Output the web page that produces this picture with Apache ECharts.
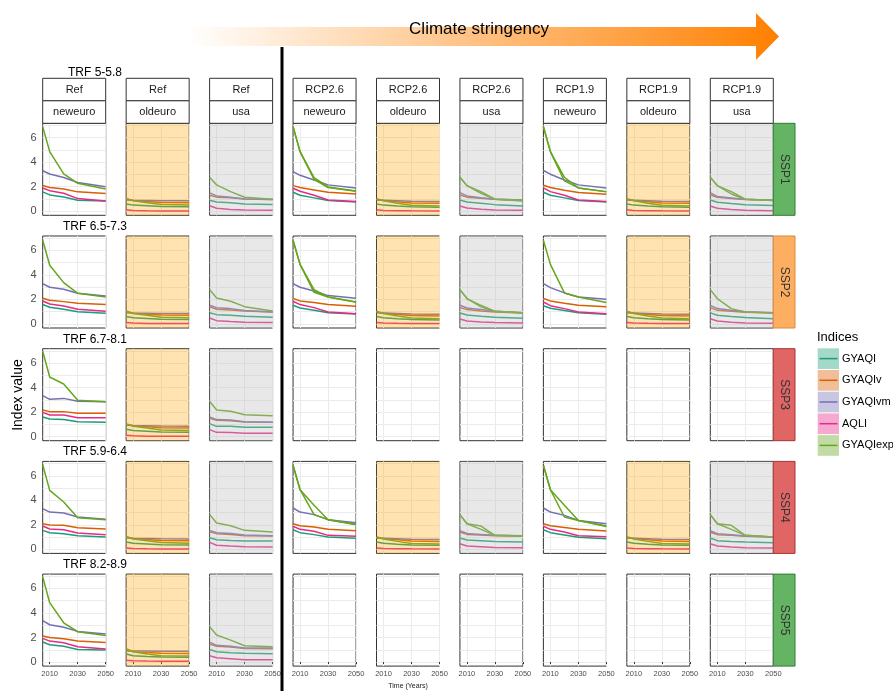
<!DOCTYPE html>
<html>
<head>
<meta charset="utf-8">
<title>Index value by scenario and region</title>
<script src="https://cdn.jsdelivr.net/npm/echarts@6/dist/echarts.min.js"></script>
<style>
html, body { margin: 0; padding: 0; background: #fff; }
#chart { width: 893px; height: 691px; }
</style>
</head>
<body>
<div id="chart"></div>
<script>
// ---- data ----
var years = [2005, 2010, 2020, 2030, 2050];
var indices = ['GYAQI', 'GYAQIv', 'GYAQIvm', 'AQLI', 'GYAQIexp'];
var scenarios = ['Ref', 'Ref', 'Ref', 'RCP2.6', 'RCP2.6', 'RCP2.6', 'RCP1.9', 'RCP1.9', 'RCP1.9'];
var regions = ['neweuro', 'oldeuro', 'usa', 'neweuro', 'oldeuro', 'usa', 'neweuro', 'oldeuro', 'usa'];
var ssps = ['SSP1', 'SSP2', 'SSP3', 'SSP4', 'SSP5'];
var trfLabels = ['TRF 5-5.8', 'TRF 6.5-7.3', 'TRF 6.7-8.1', 'TRF 5.9-6.4', 'TRF 8.2-8.9'];
var xTicks = [2010, 2030, 2050];
var yTicks = [0, 2, 4, 6];

// each panel: GYAQI, GYAQIv, GYAQIvm, AQLI, GYAQIexp [, GYAQIexp upper bound]
var oldeuroRef = [[0.60, 0.50, 0.44, 0.38, 0.36], [1.00, 0.88, 0.80, 0.72, 0.70], [0.92, 0.90, 0.88, 0.86, 0.85], [0.12, 0.07, 0.04, 0.03, 0.03], [1.05, 0.85, 0.70, 0.55, 0.50]];
var oldeuroRcp = [[0.60, 0.50, 0.42, 0.36, 0.33], [0.95, 0.88, 0.78, 0.68, 0.65], [0.92, 0.90, 0.86, 0.82, 0.80], [0.12, 0.07, 0.05, 0.04, 0.03], [1.03, 0.85, 0.65, 0.48, 0.43]];

var ssp1RefNeweuro = [[1.58, 1.33, 1.17, 0.90, 0.84], [2.10, 1.93, 1.82, 1.58, 1.44], [3.30, 3.04, 2.75, 2.34, 2.00], [1.90, 1.68, 1.47, 1.03, 0.84], [6.90, 4.86, 3.04, 2.28, 1.82]];
var ssp1RefUsa = [[0.90, 0.75, 0.70, 0.60, 0.55], [1.30, 1.15, 1.10, 1.00, 0.95], [1.50, 1.25, 1.15, 1.00, 0.95], [0.45, 0.25, 0.15, 0.10, 0.08], [2.77, 2.15, 1.60, 1.14, 0.98]];
var ssp1Rcp26Neweuro = [[1.55, 1.30, 1.09, 0.87, 0.76], [2.09, 1.93, 1.74, 1.55, 1.41], [3.23, 2.93, 2.55, 2.15, 1.90], [1.87, 1.63, 1.30, 0.92, 0.79], [6.90, 4.86, 2.60, 1.93, 1.63], [6.90, 4.86, 2.75, 1.98, 1.66]];
var ssp1Rcp26Usa = [[0.92, 0.76, 0.65, 0.54, 0.43], [1.33, 1.15, 1.05, 0.98, 0.92], [1.52, 1.25, 1.11, 0.98, 0.92], [0.43, 0.27, 0.16, 0.11, 0.08], [2.77, 2.09, 1.47, 0.98, 0.84], [2.77, 2.09, 1.60, 0.98, 0.87]];
var ssp1Rcp19Neweuro = [[1.55, 1.30, 1.09, 0.87, 0.76], [2.12, 1.93, 1.71, 1.52, 1.39], [3.32, 3.02, 2.55, 2.15, 1.90], [1.90, 1.60, 1.30, 0.92, 0.79], [6.90, 4.86, 2.47, 1.90, 1.58], [6.90, 4.86, 2.77, 1.90, 1.60]];
var ssp1Rcp19Usa = [[0.92, 0.73, 0.63, 0.54, 0.46], [1.33, 1.14, 1.03, 0.95, 0.90], [1.52, 1.20, 1.09, 0.98, 0.90], [0.43, 0.24, 0.14, 0.08, 0.05], [2.77, 2.09, 1.41, 0.98, 0.87], [2.77, 2.09, 1.60, 0.98, 0.87]];

var ssp2RefNeweuro = [[1.58, 1.36, 1.20, 1.00, 0.87], [2.09, 1.93, 1.82, 1.68, 1.58], [3.29, 2.99, 2.83, 2.50, 2.28], [1.87, 1.63, 1.47, 1.20, 1.03], [6.82, 4.78, 3.37, 2.50, 2.20]];
var ssp2RefUsa = [[0.92, 0.76, 0.71, 0.63, 0.54], [1.39, 1.20, 1.14, 1.06, 0.98], [1.52, 1.33, 1.25, 1.09, 0.98], [0.49, 0.27, 0.19, 0.14, 0.11], [2.80, 2.12, 1.85, 1.41, 1.06]];
var ssp2Rcp26Neweuro = [[1.52, 1.30, 1.11, 0.92, 0.82], [2.07, 1.88, 1.74, 1.58, 1.44], [3.29, 2.99, 2.69, 2.31, 2.09], [1.85, 1.58, 1.33, 0.98, 0.84], [6.82, 4.86, 2.58, 2.20, 1.77], [6.82, 4.86, 2.80, 2.20, 1.80]];
var ssp2Rcp26Usa = [[0.90, 0.73, 0.63, 0.54, 0.46], [1.33, 1.17, 1.06, 0.98, 0.90], [1.52, 1.30, 1.17, 1.03, 0.92], [0.41, 0.24, 0.16, 0.11, 0.08], [2.80, 2.07, 1.39, 1.03, 0.90], [2.80, 2.07, 1.52, 1.03, 0.92]];
var ssp2Rcp19Neweuro = [[1.49, 1.28, 1.09, 0.92, 0.79], [2.07, 1.88, 1.68, 1.52, 1.41], [3.29, 2.96, 2.53, 2.20, 2.01], [1.79, 1.49, 1.25, 0.98, 0.84], [6.82, 4.86, 2.53, 2.20, 1.74]];
var ssp2Rcp19Usa = [[0.90, 0.71, 0.60, 0.52, 0.43], [1.33, 1.11, 1.03, 0.95, 0.90], [1.52, 1.25, 1.11, 1.00, 0.92], [0.43, 0.24, 0.14, 0.08, 0.05], [2.80, 2.07, 1.25, 0.98, 0.90]];

var ssp3RefNeweuro = [[1.60, 1.44, 1.39, 1.22, 1.17], [2.17, 2.04, 2.04, 1.90, 1.90], [3.34, 3.04, 3.12, 2.88, 2.85], [1.98, 1.77, 1.77, 1.55, 1.55], [6.96, 4.86, 4.29, 2.96, 2.85]];
var ssp3RefUsa = [[1.06, 0.84, 0.84, 0.76, 0.76], [1.49, 1.33, 1.30, 1.20, 1.17], [1.60, 1.39, 1.36, 1.22, 1.17], [0.57, 0.35, 0.33, 0.27, 0.27], [2.88, 2.17, 2.07, 1.79, 1.71]];

var ssp4RefNeweuro = [[1.55, 1.36, 1.28, 1.11, 1.00], [2.09, 1.98, 1.96, 1.77, 1.66], [3.32, 3.04, 2.96, 2.64, 2.45], [1.90, 1.66, 1.60, 1.33, 1.20], [6.90, 4.81, 3.86, 2.58, 2.42]];
var ssp4RefUsa = [[0.95, 0.79, 0.73, 0.68, 0.68], [1.44, 1.28, 1.22, 1.11, 1.09], [1.55, 1.36, 1.30, 1.17, 1.11], [0.57, 0.33, 0.27, 0.22, 0.19], [2.85, 2.15, 1.93, 1.55, 1.41]];
var ssp4Rcp26Neweuro = [[1.60, 1.36, 1.20, 1.00, 0.90], [2.09, 1.93, 1.82, 1.63, 1.52], [3.37, 3.04, 2.83, 2.42, 2.17], [1.88, 1.63, 1.47, 1.14, 1.06], [6.85, 4.86, 2.83, 2.42, 2.01], [6.85, 4.86, 3.60, 2.42, 2.05]];
var ssp4Rcp26Usa = [[0.92, 0.76, 0.71, 0.65, 0.60], [1.41, 1.22, 1.17, 1.11, 1.09], [1.52, 1.30, 1.22, 1.14, 1.11], [0.46, 0.27, 0.22, 0.16, 0.14], [2.83, 2.09, 1.63, 1.14, 1.09], [2.83, 2.09, 1.90, 1.14, 1.09]];
var ssp4Rcp19Neweuro = [[1.60, 1.36, 1.17, 0.98, 0.87], [2.09, 1.93, 1.79, 1.63, 1.49], [3.37, 3.04, 2.77, 2.36, 2.09], [1.88, 1.63, 1.41, 1.11, 1.03], [6.85, 4.86, 2.64, 2.36, 1.87], [6.85, 4.86, 3.60, 2.36, 1.90]];
var ssp4Rcp19Usa = [[0.92, 0.71, 0.65, 0.60, 0.54], [1.39, 1.20, 1.14, 1.06, 1.00], [1.52, 1.28, 1.20, 1.09, 1.00], [0.46, 0.27, 0.19, 0.14, 0.11], [2.83, 2.09, 1.63, 1.14, 1.00], [2.83, 2.09, 1.96, 1.14, 1.00]];

var ssp5RefNeweuro = [[1.63, 1.41, 1.28, 1.03, 0.98], [2.12, 2.01, 1.90, 1.71, 1.60], [3.37, 3.04, 2.83, 2.50, 2.28], [1.93, 1.71, 1.58, 1.25, 1.06], [6.96, 4.84, 3.20, 2.47, 2.17]];
var ssp5RefOldeuro = [[0.65, 0.52, 0.45, 0.41, 0.40], [0.95, 0.85, 0.78, 0.72, 0.70], [0.95, 0.92, 0.90, 0.88, 0.88], [0.14, 0.10, 0.08, 0.07, 0.07], [1.10, 0.84, 0.65, 0.52, 0.50]];
var ssp5RefUsa = [[1.03, 0.84, 0.76, 0.71, 0.68], [1.47, 1.28, 1.22, 1.11, 1.09], [1.63, 1.36, 1.28, 1.14, 1.14], [0.52, 0.35, 0.27, 0.19, 0.19], [2.88, 2.20, 1.79, 1.33, 1.25]];

// rows = SSP, columns = scenario x region (null = no feasible run)
var panelData = [
    [ssp1RefNeweuro, oldeuroRef, ssp1RefUsa, ssp1Rcp26Neweuro, oldeuroRcp, ssp1Rcp26Usa, ssp1Rcp19Neweuro, oldeuroRcp, ssp1Rcp19Usa],
    [ssp2RefNeweuro, oldeuroRef, ssp2RefUsa, ssp2Rcp26Neweuro, oldeuroRcp, ssp2Rcp26Usa, ssp2Rcp19Neweuro, oldeuroRcp, ssp2Rcp19Usa],
    [ssp3RefNeweuro, oldeuroRef, ssp3RefUsa, null, null, null, null, null, null],
    [ssp4RefNeweuro, oldeuroRef, ssp4RefUsa, ssp4Rcp26Neweuro, oldeuroRcp, ssp4Rcp26Usa, ssp4Rcp19Neweuro, oldeuroRcp, ssp4Rcp19Usa],
    [ssp5RefNeweuro, ssp5RefOldeuro, ssp5RefUsa, null, null, null, null, null, null]
];

// ---- styling / layout ----
var colors = ['#1b9e77', '#d95f02', '#7570b3', '#e7298a', '#66a61e'];
var paleColors = ['rgba(27,158,119,0.4)', 'rgba(217,95,2,0.4)', 'rgba(117,112,179,0.4)', 'rgba(231,41,138,0.4)', 'rgba(102,166,30,0.4)'];
var regionShade = { oldeuro: 'rgba(255,165,0,0.3)', usa: 'rgba(190,190,190,0.35)' };
var sspFill = ['#64b464', '#fdae61', '#e06666', '#e06666', '#64b464'];
var sspStroke = ['#2e7d32', '#d98b3a', '#a83232', '#a83232', '#2e7d32'];
var FONT = 'Liberation Sans, Arial, Helvetica, sans-serif';

var PANEL_LEFT = 42.7, PANEL_TOP = 123.3, PANEL_W = 63, PANEL_H = 92;
var STEP_X = 83.45, STEP_Y = 112.7;
var X_MIN = 2005, X_MAX = 2050, Y_MIN = -0.33, Y_MAX = 7.17;
var yGrid = [0, 1, 2, 3, 4, 5, 6, 7];

function pts(vals) {
    return years.map(function (y, j) { return [y, vals[j]]; });
}

var grids = [], xAxes = [], yAxes = [], series = [];

panelData.forEach(function (row, r) {
    row.forEach(function (panel, c) {
        var i = grids.length;
        grids.push({
            left: PANEL_LEFT + c * STEP_X, top: PANEL_TOP + r * STEP_Y,
            width: PANEL_W, height: PANEL_H,
            show: true, borderColor: '#333', borderWidth: 1, backgroundColor: '#fff'
        });
        xAxes.push({
            gridIndex: i, type: 'value', min: X_MIN, max: X_MAX,
            axisLine: { show: false },
            axisTick: { show: r === 4, customValues: xTicks, length: 2, lineStyle: { color: '#333' } },
            axisLabel: {
                show: r === 4, customValues: xTicks, fontSize: 7.5, color: '#4d4d4d', margin: 4, fontFamily: FONT,
                formatter: function (v) { return String(v); }
            },
            splitLine: { show: true, customValues: xTicks, lineStyle: { color: '#ebebeb', width: 1 } }
        });
        yAxes.push({
            gridIndex: i, type: 'value', min: Y_MIN, max: Y_MAX,
            axisLine: { show: false },
            axisTick: { show: false, customValues: yGrid },
            axisLabel: { show: c === 0, customValues: yTicks, fontSize: 11, color: '#4d4d4d', margin: 6, fontFamily: FONT },
            splitLine: { show: true, customValues: yGrid, lineStyle: { color: '#ebebeb', width: 1 } }
        });
        if (!panel) return;

        // ribbon between the two GYAQIexp runs
        if (panel.length > 5) {
            series.push({
                type: 'line', xAxisIndex: i, yAxisIndex: i, stack: 'band' + i,
                data: pts(panel[4]), symbol: 'none', silent: true, z: 1,
                lineStyle: { opacity: 0 }, emphasis: { disabled: true }
            });
            series.push({
                type: 'line', xAxisIndex: i, yAxisIndex: i, stack: 'band' + i,
                data: years.map(function (y, j) { return [y, +(panel[5][j] - panel[4][j]).toFixed(3)]; }),
                symbol: 'none', silent: true, z: 1,
                lineStyle: { opacity: 0 }, areaStyle: { color: paleColors[4], opacity: 1 },
                emphasis: { disabled: true }
            });
        }
        panel.forEach(function (vals, k) {
            var idx = Math.min(k, 4);
            series.push({
                type: 'line', name: indices[idx], xAxisIndex: i, yAxisIndex: i,
                data: pts(vals), symbol: 'none', silent: true, z: 2,
                lineStyle: { color: colors[idx], width: 1.5 },
                itemStyle: { color: colors[idx] },
                emphasis: { disabled: true }
            });
        });
        // translucent region shading drawn over the lines
        var shade = regionShade[regions[c]];
        if (shade) {
            series.push({
                type: 'custom', xAxisIndex: i, yAxisIndex: i, silent: true, z: 5,
                data: [[X_MIN, 0]],
                renderItem: (function (fill) {
                    return function (params) {
                        var cs = params.coordSys;
                        return { type: 'rect', shape: { x: cs.x, y: cs.y, width: cs.width, height: cs.height }, style: { fill: fill } };
                    };
                })(shade)
            });
        }
    });
});

// ---- decorations ----
var graphics = [];
function txt(x, y, text, size, opts) {
    opts = opts || {};
    return {
        type: 'text', x: x, y: y, rotation: opts.rotation || 0, silent: true, z: 20,
        style: {
            text: text, fill: opts.color || '#000', fontSize: size, fontFamily: FONT,
            align: opts.align || 'center', verticalAlign: 'middle',
            textAlign: opts.align || 'center', textVerticalAlign: 'middle'
        }
    };
}

// climate stringency arrow
graphics.push({
    type: 'polygon', silent: true, z: 10,
    shape: { points: [[188, 27], [756, 27], [756, 13], [779, 36.5], [756, 60], [756, 46], [188, 46]] },
    style: {
        fill: new echarts.graphic.LinearGradient(0, 0, 1, 0, [
            { offset: 0, color: 'rgba(255,128,0,0)' },
            { offset: 1, color: 'rgba(255,128,0,1)' }
        ])
    }
});
graphics.push(txt(479, 29.5, 'Climate stringency', 17));
graphics.push({ type: 'line', silent: true, z: 10, shape: { x1: 282, y1: 47, x2: 282, y2: 691 }, style: { stroke: '#000', lineWidth: 3 } });

// column strips
scenarios.forEach(function (s, c) {
    var x = PANEL_LEFT + c * STEP_X, y0 = PANEL_TOP - 45;
    graphics.push({ type: 'rect', silent: true, z: 10, shape: { x: x, y: y0, width: PANEL_W, height: 22.5 }, style: { fill: '#fff', stroke: '#333', lineWidth: 1 } });
    graphics.push({ type: 'rect', silent: true, z: 10, shape: { x: x, y: y0 + 22.5, width: PANEL_W, height: 22.5 }, style: { fill: '#fff', stroke: '#333', lineWidth: 1 } });
    graphics.push(txt(x + PANEL_W / 2, y0 + 11.5, s, 11, { color: '#1a1a1a' }));
    graphics.push(txt(x + PANEL_W / 2, y0 + 34, regions[c], 11, { color: '#1a1a1a' }));
});

// row strips and TRF titles
ssps.forEach(function (s, r) {
    var top = PANEL_TOP + r * STEP_Y, x = PANEL_LEFT + 8 * STEP_X + PANEL_W;
    graphics.push({ type: 'rect', silent: true, z: 10, shape: { x: x, y: top, width: 21.7, height: PANEL_H }, style: { fill: sspFill[r], stroke: sspStroke[r], lineWidth: 1 } });
    graphics.push(txt(x + 11, top + PANEL_H / 2, s, 12, { rotation: -Math.PI / 2, color: '#333' }));
    graphics.push(txt(95, r === 0 ? 72.5 : top - 9.5, trfLabels[r], 12));
});

// axis titles
graphics.push(txt(18, 395, 'Index value', 14, { rotation: Math.PI / 2 }));
graphics.push(txt(408, 686, 'Time (Years)', 7, { color: '#1a1a1a' }));

// legend
graphics.push(txt(817, 337, 'Indices', 13, { align: 'left' }));
indices.forEach(function (name, k) {
    var y = 348.3 + k * 21.7;
    graphics.push({ type: 'rect', silent: true, z: 10, shape: { x: 817.7, y: y, width: 21.3, height: 20.7 }, style: { fill: paleColors[k] } });
    graphics.push({ type: 'line', silent: true, z: 11, shape: { x1: 819.5, y1: y + 10.3, x2: 837.5, y2: y + 10.3 }, style: { stroke: colors[k], lineWidth: 1.5 } });
    graphics.push(txt(842, y + 10.3, name, 11, { align: 'left' }));
});

var chart = echarts.init(document.getElementById('chart'));
chart.setOption({
    animation: false,
    backgroundColor: '#fff',
    textStyle: { fontFamily: FONT },
    grid: grids,
    xAxis: xAxes,
    yAxis: yAxes,
    series: series,
    graphic: { elements: graphics }
});
</script>
</body>
</html>
